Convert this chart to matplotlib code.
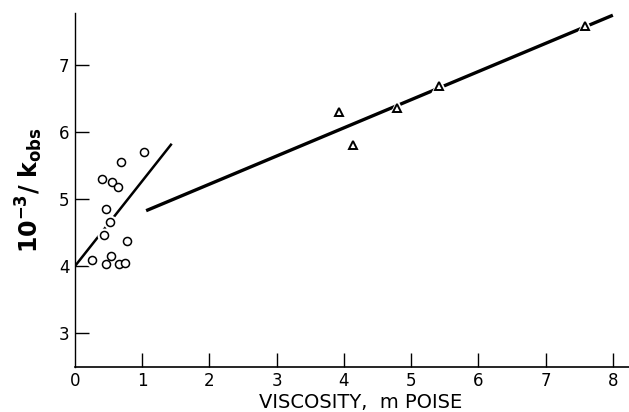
import matplotlib
matplotlib.use("Agg")
import matplotlib.pyplot as plt
import numpy as np

plt.rcParams['font.family'] = ['DejaVu Sans']

# Data
circle_x = [0.25, 0.40, 0.47, 0.43, 0.47, 0.53, 0.54, 0.55, 0.64, 0.68, 0.65, 0.74, 0.78, 1.03]
circle_y = [4.10, 5.31, 4.86, 4.46, 4.04, 4.66, 4.16, 5.26, 5.19, 5.55, 4.04, 4.05, 4.38, 5.71]
tri_x = [3.93, 4.14, 4.79, 5.41, 7.58]
tri_y = [6.31, 5.81, 6.36, 6.69, 7.59]
fit1_x = [0.0, 1.44]
fit1_y = [4.00, 5.83]
fit2_x = [1.06, 8.00]
fit2_y = [4.83, 7.75]
xticks = [1, 2, 3, 4, 5, 6, 7, 8]
yticks = [3, 4, 5, 6, 7]

fig = plt.figure(figsize=(6.29, 4.12), dpi=100)
ax = fig.add_axes([0.119, 0.11, 0.881, 0.858])
ax.set_xlim(0, 8.24)
ax.set_ylim(2.5, 7.78)

ax.plot(fit1_x, fit1_y, color='black', lw=1.8, solid_capstyle='butt', zorder=2)
ax.plot(fit2_x, fit2_y, color='black', lw=2.4, solid_capstyle='butt', zorder=2)

# white halos to break the lines near markers
ax.plot(circle_x, circle_y, 'o', ms=9, mfc='white', mec='white', zorder=3)
ax.plot(tri_x, tri_y, '^', ms=11, mfc='white', mec='white', zorder=3)
ax.plot(circle_x, circle_y, 'o', ms=5.8, mfc='white', mec='black', mew=1.1, zorder=4)
ax.plot(tri_x, tri_y, '^', ms=5.2, mfc='white', mec='black', mew=1.4, zorder=4)

for s in ['top', 'right']:
    ax.spines[s].set_visible(False)
ax.spines['left'].set_linewidth(1.0)
ax.spines['bottom'].set_linewidth(1.2)

ax.set_xticks([0] + xticks)
ax.set_xticklabels(['0'] + [str(v) for v in xticks])
ax.set_yticks(yticks)
ax.set_yticklabels([str(v) for v in yticks])
ax.tick_params(axis='both', direction='in', length=10, width=1.0, labelsize=12, pad=4)
ax.xaxis.get_major_ticks()[0].tick1line.set_visible(False)

ax.set_xlabel('VISCOSITY,  m POISE', fontsize=14)
ax.xaxis.set_label_coords(0.515, -0.075)
ax.set_ylabel(r'$\mathregular{10^{-3}/\ k_{obs}}$', fontsize=17, fontweight='bold', labelpad=10)

fig.savefig('out.png', dpi=100)
